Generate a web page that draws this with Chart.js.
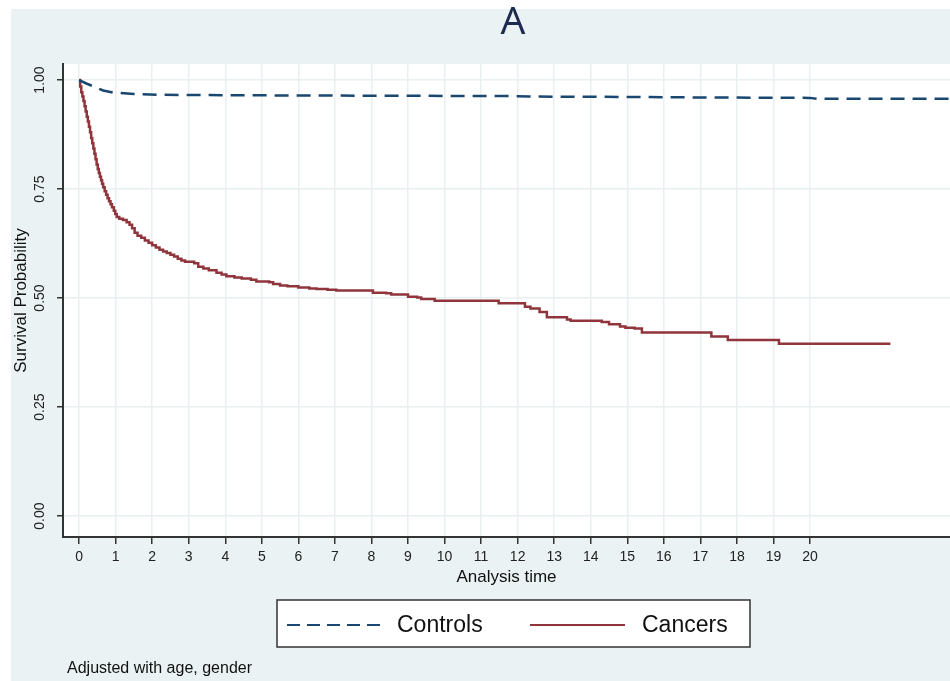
<!DOCTYPE html>
<html>
<head>
<meta charset="utf-8">
<script src="https://cdn.jsdelivr.net/npm/chart.js@4"></script>
<style>
html,body{margin:0;padding:0;background:#fff;}
canvas{display:block;}
</style>
</head>
<body>
<canvas id="c" width="950" height="681"></canvas>
<script>
// ---- data ----
const xTicks = [0,1,2,3,4,5,6,7,8,9,10,11,12,13,14,15,16,17,18,19,20];
const yTicks = [0, 0.25, 0.5, 0.75, 1];

const controlsTime = [0,0.2,0.4,0.66,0.94,1.5,2.2,4.2,8,12,12.3,15.5,17,20,20.2,23.9];
const controlsSurv = [1.0,0.992,0.985,0.976,0.971,0.968,0.966,0.965,0.964,0.963,0.962,0.961,0.960,0.959,0.957,0.957];

const cancersTime = [0,0.03,0.06,0.09,0.12,0.15,0.18,0.21,0.24,0.27,0.30,0.33,0.36,0.39,0.42,0.45,0.48,0.51,0.54,0.57,0.60,0.63,0.66,0.70,0.74,0.78,0.82,0.86,0.90,0.95,0.99,1.03,1.1,1.2,1.3,1.38,1.45,1.52,1.6,1.7,1.8,1.9,2.0,2.1,2.2,2.3,2.4,2.5,2.6,2.7,2.8,2.9,3.15,3.26,3.4,3.55,3.76,3.9,4.03,4.25,4.45,4.7,4.85,5.2,5.31,5.5,5.7,6.0,6.3,6.5,6.8,7.04,8.04,8.4,8.54,9.0,9.25,9.36,9.73,11.48,12.2,12.35,12.6,12.8,13.35,13.45,14.3,14.5,14.8,14.95,15.2,15.4,17.3,17.75,19.15,22.2];
const cancersSurv = [1.0,0.985,0.972,0.962,0.952,0.94,0.928,0.916,0.905,0.893,0.88,0.867,0.855,0.843,0.831,0.818,0.806,0.796,0.787,0.778,0.770,0.762,0.754,0.745,0.737,0.729,0.722,0.715,0.708,0.70,0.693,0.686,0.682,0.679,0.674,0.668,0.660,0.650,0.643,0.638,0.632,0.627,0.621,0.616,0.611,0.607,0.603,0.599,0.595,0.59,0.586,0.583,0.58,0.572,0.568,0.564,0.558,0.554,0.55,0.547,0.545,0.542,0.538,0.536,0.532,0.529,0.527,0.524,0.522,0.521,0.519,0.517,0.512,0.511,0.508,0.503,0.501,0.498,0.494,0.488,0.48,0.476,0.468,0.456,0.451,0.448,0.445,0.44,0.435,0.432,0.43,0.421,0.412,0.404,0.395,0.395];

const seriesLabels = ['Controls','Cancers'];
const seriesColors = ['#1a476f','#90353b'];
const titleText = 'A';
const xTitle = 'Analysis time';
const yTitle = 'Survival Probability';
const noteText = 'Adjusted with age, gender';

const toXY = (t,s) => t.map((v,i)=>({x:v,y:s[i]}));
const FONT = 'Liberation Sans, Arial, sans-serif';

const bgPlugin = {
  id:'bg',
  beforeDraw(chart){
    const {ctx, chartArea:a} = chart;
    ctx.save();
    ctx.fillStyle = '#ffffff';
    ctx.fillRect(0,0,chart.width,chart.height);
    ctx.fillStyle = '#eaf2f3';
    ctx.fillRect(11,9,chart.width-11,chart.height-9);
    ctx.fillStyle = '#ffffff';
    ctx.fillRect(a.left,a.top,a.right-a.left,a.bottom-a.top);
    ctx.restore();
  },
  afterDraw(chart){
    const ctx = chart.ctx;
    ctx.save();
    // title
    ctx.fillStyle = '#1c2b4f';
    ctx.font = '39px "Noto Sans", sans-serif';
    ctx.textAlign = 'center';
    ctx.textBaseline = 'middle';
    ctx.fillText(titleText, 513, 23);
    // legend box
    ctx.fillStyle = '#ffffff';
    ctx.fillRect(277,600,473,47);
    ctx.strokeStyle = '#333';
    ctx.lineWidth = 1.5;
    ctx.strokeRect(277,600,473,47);
    const ly = 625;
    ctx.lineWidth = 2.2;
    ctx.strokeStyle = seriesColors[0];
    ctx.setLineDash([13,7]);
    ctx.beginPath(); ctx.moveTo(287,ly); ctx.lineTo(383,ly); ctx.stroke();
    ctx.setLineDash([]);
    ctx.strokeStyle = seriesColors[1];
    ctx.beginPath(); ctx.moveTo(530,ly); ctx.lineTo(625,ly); ctx.stroke();
    ctx.fillStyle = '#111';
    ctx.font = '23px ' + FONT;
    ctx.textAlign = 'left';
    ctx.textBaseline = 'middle';
    ctx.fillText(seriesLabels[0], 397, ly + 1);
    ctx.fillText(seriesLabels[1], 642, ly + 1);
    // note
    ctx.font = '16px ' + FONT;
    ctx.fillText(noteText, 67, 669);
    ctx.restore();
  }
};

new Chart(document.getElementById('c'), {
  type:'line',
  data:{
    datasets:[
      {label:seriesLabels[0], data:toXY(controlsTime,controlsSurv), borderColor:seriesColors[0], borderWidth:2.5, borderDash:[14,8], pointRadius:0, tension:0, fill:false},
      {label:seriesLabels[1], data:toXY(cancersTime,cancersSurv), borderColor:seriesColors[1], borderWidth:2.5, stepped:'before', pointRadius:0, fill:false}
    ]
  },
  options:{
    responsive:false,
    animation:false,
    devicePixelRatio:1,
    layout:{padding:{left:0,right:0,top:64,bottom:84}},
    plugins:{legend:{display:false}, title:{display:false}, tooltip:{enabled:false}},
    scales:{
      x:{
        type:'linear', min:-0.44, max:23.83,
        afterBuildTicks:s=>{ s.ticks = xTicks.map(v=>({value:v})); },
        afterFit:s=>{ s.height = 60; },
        grid:{color:'#e8f0f2', lineWidth:1.5, tickLength:7, tickColor:'#333', tickWidth:1.5},
        border:{color:'#333', width:2},
        ticks:{font:{family:FONT,size:14}, color:'#222', padding:5, maxRotation:0, minRotation:0, autoSkip:false},
        title:{display:true, text:xTitle, font:{family:FONT,size:17}, color:'#111', padding:{top:0,bottom:9}}
      },
      y:{
        type:'linear', min:-0.048, max:1.0367,
        afterBuildTicks:s=>{ s.ticks = yTicks.map(v=>({value:v})); },
        afterFit:s=>{ s.width = 63; },
        grid:{color:'#e8f0f2', lineWidth:1.5, tickLength:6, tickColor:'#333', tickWidth:1.5},
        border:{color:'#333', width:2},
        ticks:{font:{family:FONT,size:14}, color:'#222', padding:3, minRotation:90, maxRotation:90, crossAlign:'center', callback:v=>Number(v).toFixed(2)},
        title:{display:true, text:yTitle, font:{family:FONT,size:17}, color:'#111', padding:{top:11,bottom:0}}
      }
    }
  },
  plugins:[bgPlugin]
});
</script>
</body>
</html>
